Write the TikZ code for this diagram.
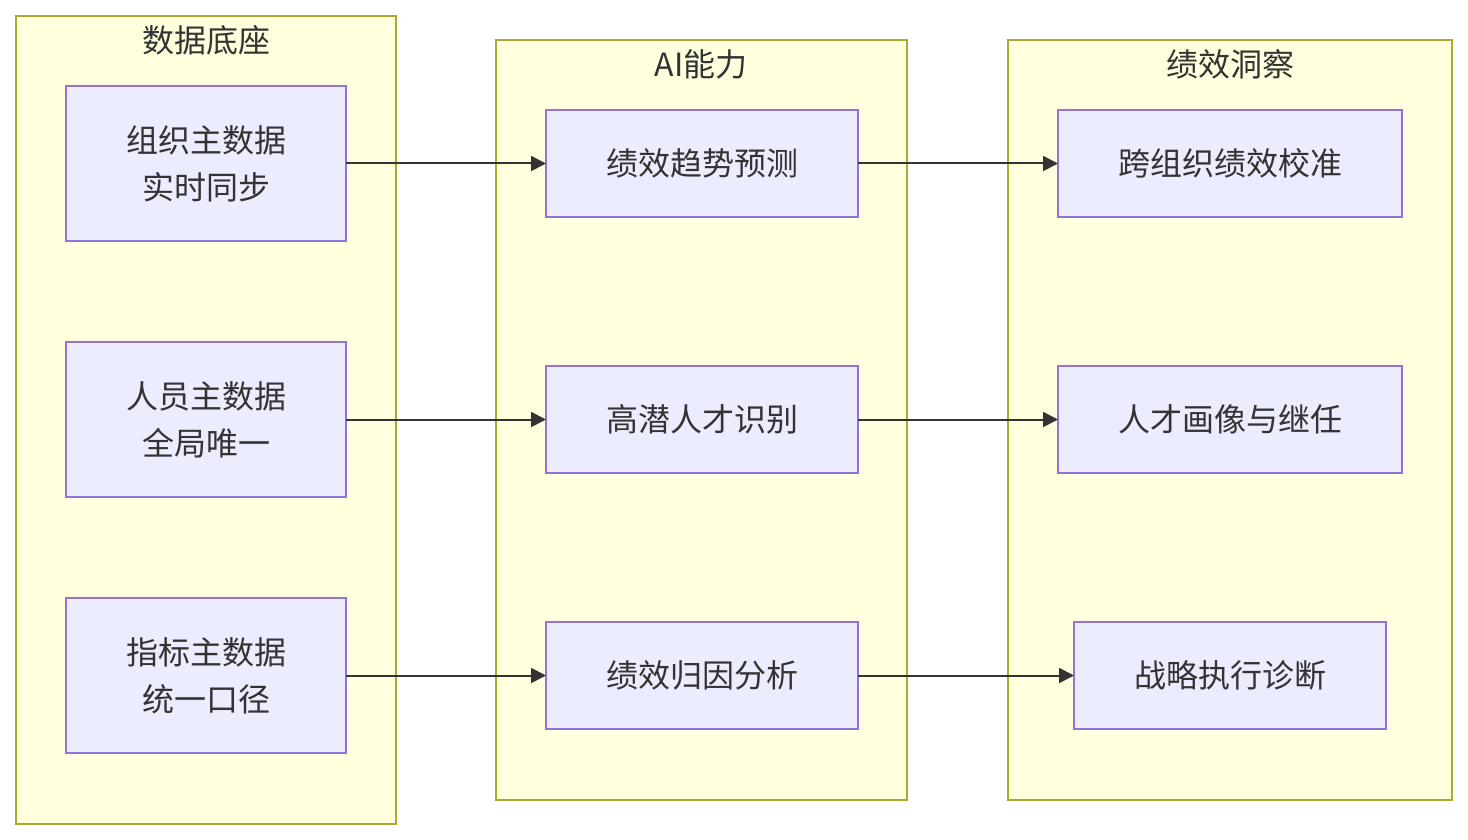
\documentclass[tikz,border=0pt]{standalone}
\usepackage{fontspec}
\newfontfamily\cjk{Noto Sans CJK SC}
\usetikzlibrary{arrows.meta, positioning}
\definecolor{clfill}{HTML}{FFFFDE}
\definecolor{clline}{HTML}{AAAA33}
\definecolor{boxfill}{HTML}{ECECFF}
\definecolor{boxline}{HTML}{9370DB}
\definecolor{ink}{HTML}{333333}
\tikzset{
  cluster/.style={draw=clline, fill=clfill, line width=2pt},
  cltitle/.style={font=\cjk\fontsize{32}{38}\selectfont, text=ink, inner sep=0pt},
  box/.style={draw=boxline, fill=boxfill, line width=2pt, font=\cjk\fontsize{32}{47}\selectfont,
    text=ink, align=center, inner sep=0pt, outer sep=0pt},
  link/.style={draw=ink, line width=2pt, -{Triangle[length=15pt,width=15pt]}}
}
\begin{document}
\begin{tikzpicture}[x=1pt,y=-1pt]
\useasboundingbox (0,0) rectangle (1468,840);

% clusters
\draw [cluster] (16,16)   rectangle (396,824);
\draw [cluster] (496,40)  rectangle (907,800);
\draw [cluster] (1008,40) rectangle (1452,800);
\node [cltitle] (t1) at (206,40)  {数据底座};
\node [cltitle] (t2) at (701,64)  {AI能力};
\node [cltitle] (t3) at (1230,64) {绩效洞察};

% data layer
\node [box, minimum width=280pt, minimum height=155pt] (d1) at (206,163.5) {组织主数据\\实时同步};
\node [box, minimum width=280pt, minimum height=155pt] (d2) at (206,419.5) {人员主数据\\全局唯一};
\node [box, minimum width=280pt, minimum height=155pt] (d3) at (206,675.5) {指标主数据\\统一口径};

% ai layer
\node [box, minimum width=312pt, minimum height=107pt] (a1) at (702,163.5) {绩效趋势预测};
\node [box, minimum width=312pt, minimum height=107pt] (a2) at (702,419.5) {高潜人才识别};
\node [box, minimum width=312pt, minimum height=107pt] (a3) at (702,675.5) {绩效归因分析};

% insight layer
\node [box, minimum width=344pt, minimum height=107pt] (i1) at (1230,163.5) {跨组织绩效校准};
\node [box, minimum width=344pt, minimum height=107pt] (i2) at (1230,419.5) {人才画像与继任};
\node [box, minimum width=312pt, minimum height=107pt] (i3) at (1230,675.5) {战略执行诊断};

\foreach \k in {1,2,3} {
  \draw [link] (d\k) -- (a\k);
  \draw [link] (a\k) -- (i\k);
}
\end{tikzpicture}
\end{document}
